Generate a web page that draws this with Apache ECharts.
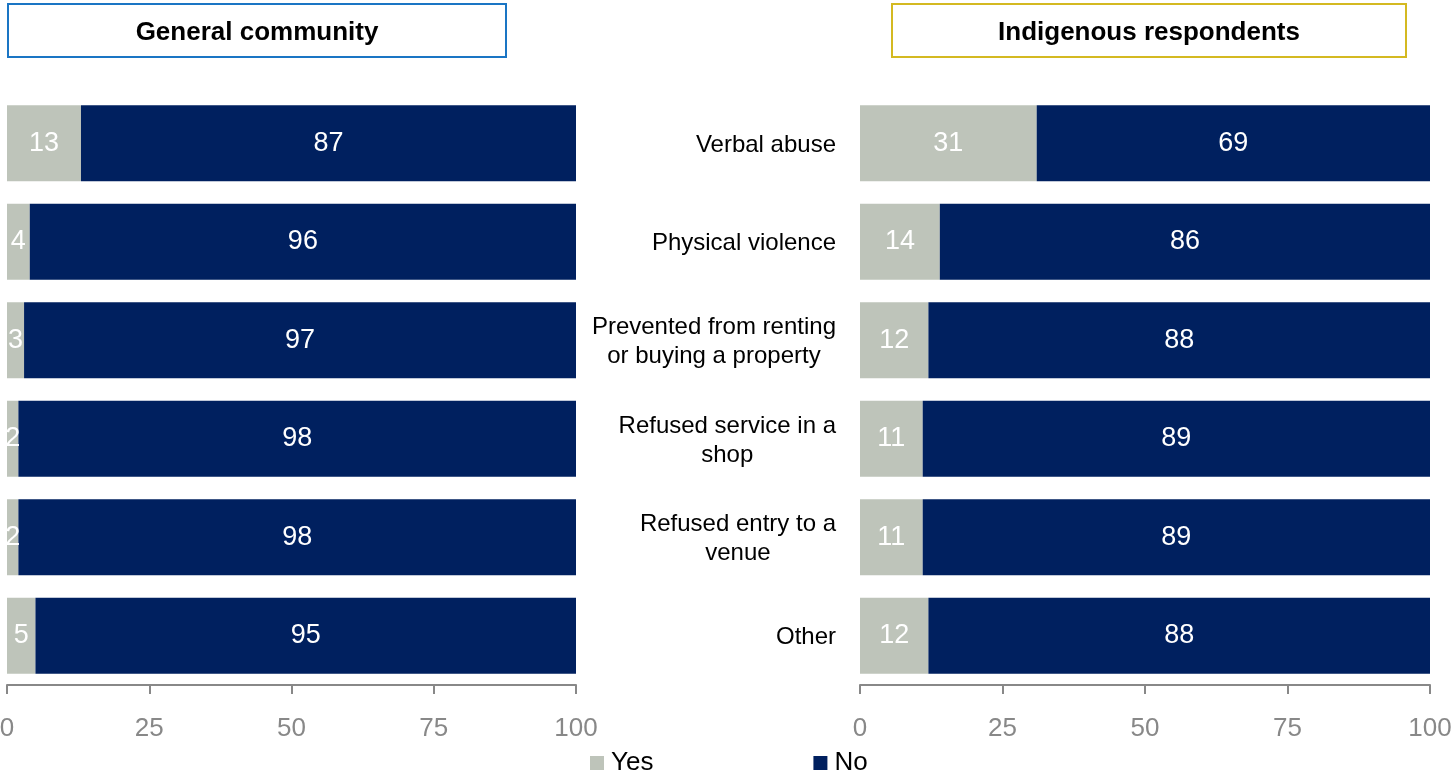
<!DOCTYPE html>
<html>
<head>
<meta charset="utf-8">
<script src="https://cdn.jsdelivr.net/npm/echarts@6/dist/echarts.min.js"></script>
<style>
  html, body { margin: 0; padding: 0; background: #fff; }
  #chart { width: 1455px; height: 774px; }
</style>
</head>
<body>
<div id="chart"></div>
<script>
// Experiences of discrimination, % of respondents
const categories = [
  'Verbal abuse',
  'Physical violence',
  'Prevented from renting\nor buying a property',
  'Refused service in a\nshop',
  'Refused entry to a\nvenue',
  'Other'
];
const generalYes = [13, 4, 3, 2, 2, 5];
const generalNo = [87, 96, 97, 98, 98, 95];
const indigenousYes = [31, 14, 12, 11, 11, 12];
const indigenousNo = [69, 86, 88, 89, 89, 88];
const panelTitles = ['General community', 'Indigenous respondents'];
const seriesNames = ['Yes', 'No'];

const YES_COLOR = '#bec4ba';
const NO_COLOR = '#00205f';
const FONT = 'Liberation Sans, Arial, sans-serif';

const chart = echarts.init(document.getElementById('chart'));

function xAxisFor(gridIndex) {
  return {
    type: 'value', gridIndex, min: 0, max: 100, interval: 25,
    axisLine: { show: true, lineStyle: { color: '#888', width: 2 } },
    axisTick: { show: true, length: 9, lineStyle: { color: '#888', width: 2 } },
    axisLabel: { color: '#888', fontSize: 26, fontFamily: FONT, margin: 31 },
    splitLine: { show: false }
  };
}

// Multi-line category names: the block sits right-aligned against the
// bars, while each line inside it is centred.
function categoryLabel(value) {
  return value.split('\n').map(line => '{c|' + line + '}').join('\n');
}

function yAxisFor(gridIndex, showLabels) {
  return {
    type: 'category', gridIndex, data: categories, inverse: true,
    axisLine: { show: false }, axisTick: { show: false },
    axisLabel: {
      show: showLabels, color: '#000', fontSize: 24, fontFamily: FONT,
      margin: 24, align: 'right', lineHeight: 29,
      padding: [4, 0, 0, 0],
      formatter: categoryLabel,
      rich: {
        c: { align: 'center', color: '#000', fontSize: 24, fontFamily: FONT, lineHeight: 29 }
      }
    }
  };
}

function barSeries(name, data, axisIndex, color) {
  return {
    name, type: 'bar', stack: 'panel' + axisIndex,
    xAxisIndex: axisIndex, yAxisIndex: axisIndex,
    data, barWidth: 76,
    itemStyle: { color },
    label: {
      show: true, position: 'inside', color: '#fff',
      fontSize: 27, fontFamily: FONT, offset: [0, 2]
    },
    labelLayout: { hideOverlap: false }
  };
}

function titleBox(x, w, text, border) {
  return {
    type: 'group', left: x, top: 3,
    children: [
      { type: 'rect', shape: { x: 0, y: 0, width: w, height: 53 },
        style: { fill: '#fff', stroke: border, lineWidth: 2 } },
      { type: 'text', x: w / 2, y: 29,
        style: { text, fill: '#000', font: 'bold 26px ' + FONT,
                 align: 'center', verticalAlign: 'middle' } }
    ]
  };
}

chart.setOption({
  animation: false,
  grid: [
    { left: 7, top: 94, width: 569, height: 591, outerBoundsMode: 'none' },
    { left: 860, top: 94, width: 570, height: 591, outerBoundsMode: 'none' }
  ],
  xAxis: [xAxisFor(0), xAxisFor(1)],
  yAxis: [yAxisFor(0, false), yAxisFor(1, true)],
  legend: {
    data: seriesNames,
    left: 590, top: 750, padding: 0,
    itemWidth: 14, itemHeight: 14, itemGap: 160,
    icon: 'rect',
    textStyle: { color: '#000', fontSize: 26, fontFamily: FONT, padding: [0, 0, 0, 2] }
  },
  graphic: [
    titleBox(7, 498, panelTitles[0], '#1a75c4'),
    titleBox(891, 514, panelTitles[1], '#d4b921')
  ],
  series: [
    barSeries(seriesNames[0], generalYes, 0, YES_COLOR),
    barSeries(seriesNames[1], generalNo, 0, NO_COLOR),
    barSeries(seriesNames[0], indigenousYes, 1, YES_COLOR),
    barSeries(seriesNames[1], indigenousNo, 1, NO_COLOR)
  ]
});
</script>
</body>
</html>
